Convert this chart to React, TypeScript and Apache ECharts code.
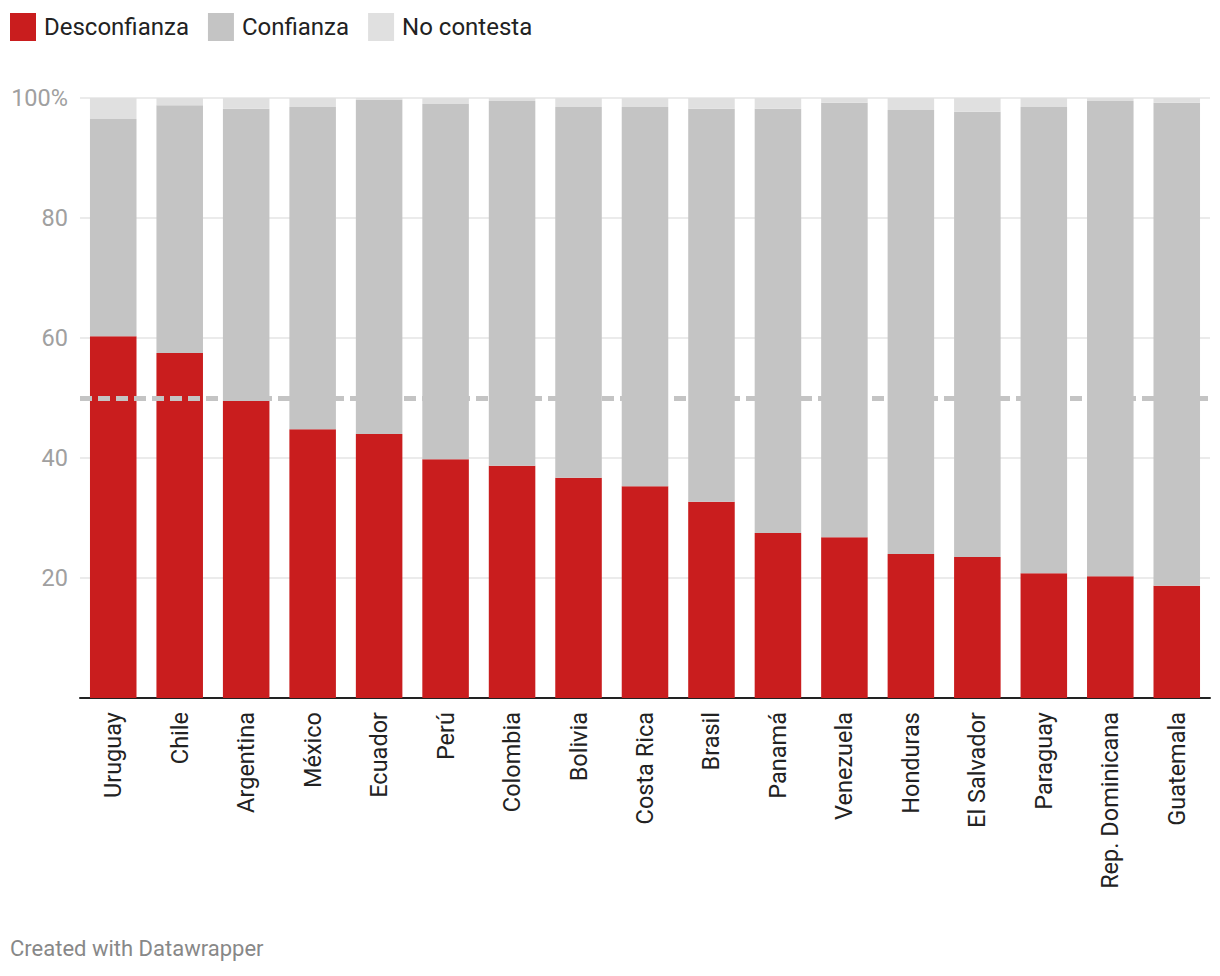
import React, { useEffect, useRef } from "react";
import * as echarts from "echarts";

const countries = [
  "Uruguay", "Chile", "Argentina", "México", "Ecuador", "Perú", "Colombia", "Bolivia",
  "Costa Rica", "Brasil", "Panamá", "Venezuela", "Honduras", "El Salvador", "Paraguay",
  "Rep. Dominicana", "Guatemala",
];
const desconfianza = [60.3, 57.5, 49.5, 44.8, 44.0, 39.8, 38.7, 36.7, 35.3, 32.7, 27.5, 26.8, 24.0, 23.5, 20.8, 20.3, 18.7];
const confianza = [36.2, 41.3, 48.7, 53.7, 55.7, 59.2, 60.8, 61.8, 63.2, 65.5, 70.7, 72.4, 74.0, 74.2, 77.7, 79.2, 80.5];
const noContesta = [3.5, 1.2, 1.8, 1.5, 0.3, 1.0, 0.5, 1.5, 1.5, 1.8, 1.8, 0.8, 2.0, 2.3, 1.5, 0.5, 0.8];
const referenceValue = 50;
const yTicks = [0, 20, 40, 60, 80, 100];

export default function App() {
  const ref = useRef<HTMLDivElement>(null);
  useEffect(() => {
    if (!ref.current) return;
    const chart = echarts.init(ref.current, null, { renderer: "svg" });
    const font = "Roboto";
    chart.setOption({
      animation: false,
      textStyle: { fontFamily: font },
      legend: {
        left: 10,
        top: 13,
        padding: 0,
        itemWidth: 26,
        itemHeight: 28,
        itemGap: 19,
        icon: "rect",
        textStyle: { fontSize: 24, color: "#222", fontFamily: font, padding: [0, 0, 0, 3] },
        data: ["Desconfianza", "Confianza", "No contesta"],
      },
      grid: { left: 80, right: 10, top: 98, bottom: 278, containLabel: false },
      xAxis: {
        type: "category",
        data: countries,
        axisLine: { lineStyle: { color: "#222", width: 2 } },
        axisTick: { show: false },
        axisLabel: { rotate: 90, fontSize: 23.5, color: "#222", margin: 14, fontFamily: font, interval: 0 },
      },
      yAxis: {
        type: "value",
        min: yTicks[0],
        max: yTicks[yTicks.length - 1],
        interval: 20,
        axisLine: { show: false },
        axisTick: { show: false },
        splitLine: { lineStyle: { color: "#e5e5e5", width: 1.5 } },
        axisLabel: {
          fontSize: 23.5,
          color: "#a0a0a0",
          margin: 12,
          fontFamily: font,
          formatter: (v: number) => (v === 0 ? "" : v === 100 ? "100%" : String(v)),
        },
      },
      series: [
        {
          name: "Desconfianza",
          type: "bar",
          stack: "t",
          data: desconfianza,
          barCategoryGap: "30%",
          itemStyle: { color: "#c91d1e" },
        },
        {
          name: "Confianza",
          type: "bar",
          stack: "t",
          data: confianza,
          itemStyle: { color: "#c4c4c4" },
        },
        {
          name: "No contesta",
          type: "bar",
          stack: "t",
          data: noContesta,
          itemStyle: { color: "#e0e0e0" },
          markLine: {
            silent: true,
            symbol: "none",
            label: { show: false },
            lineStyle: { color: "#c4c4c4", width: 5, type: [12, 6] },
            data: [{ yAxis: referenceValue }],
            z: 10,
          },
        },
      ],
      graphic: [
        {
          type: "text",
          left: 10,
          top: 937,
          style: { text: "Created with Datawrapper", fontSize: 22, fill: "#888", fontFamily: font },
        },
      ],
    });
    return () => chart.dispose();
  }, []);
  return <div ref={ref} style={{ width: 1220, height: 976, margin: -8 }} />;
}
